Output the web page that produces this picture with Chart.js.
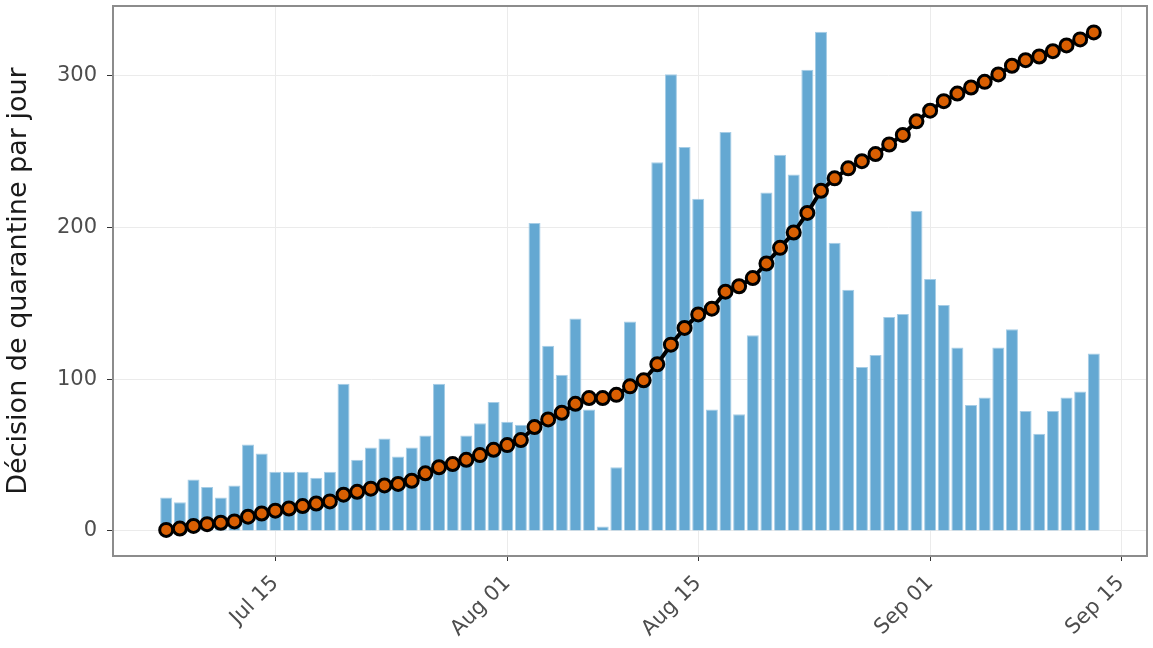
<!DOCTYPE html>
<html>
<head>
<meta charset="utf-8">
<script src="https://cdn.jsdelivr.net/npm/chart.js@4.4.0/dist/chart.umd.min.js"></script>
<style>
    html, body { margin: 0; padding: 0; background: #ffffff; }
    #quarantine-chart { display: block; }
</style>
</head>
<body>
<canvas id="quarantine-chart" width="1153" height="648"></canvas>
<script>
// One entry per day, 2020-07-07 .. 2020-09-13
const dates = [
    '2020-07-07', '2020-07-08', '2020-07-09', '2020-07-10', '2020-07-11', '2020-07-12', '2020-07-13',
    '2020-07-14', '2020-07-15', '2020-07-16', '2020-07-17', '2020-07-18', '2020-07-19', '2020-07-20',
    '2020-07-21', '2020-07-22', '2020-07-23', '2020-07-24', '2020-07-25', '2020-07-26', '2020-07-27',
    '2020-07-28', '2020-07-29', '2020-07-30', '2020-07-31', '2020-08-01', '2020-08-02', '2020-08-03',
    '2020-08-04', '2020-08-05', '2020-08-06', '2020-08-07', '2020-08-08', '2020-08-09', '2020-08-10',
    '2020-08-11', '2020-08-12', '2020-08-13', '2020-08-14', '2020-08-15', '2020-08-16', '2020-08-17',
    '2020-08-18', '2020-08-19', '2020-08-20', '2020-08-21', '2020-08-22', '2020-08-23', '2020-08-24',
    '2020-08-25', '2020-08-26', '2020-08-27', '2020-08-28', '2020-08-29', '2020-08-30', '2020-08-31',
    '2020-09-01', '2020-09-02', '2020-09-03', '2020-09-04', '2020-09-05', '2020-09-06', '2020-09-07',
    '2020-09-08', '2020-09-09', '2020-09-10', '2020-09-11', '2020-09-12', '2020-09-13'
];

// Décisions de quarantaine par jour (bars)
const dailyDecisions = [
    22, 19, 34, 29, 22, 30, 57,
    51, 39, 39, 39, 35, 39, 97,
    47, 55, 61, 49, 55, 63, 97,
    47, 63, 71, 85, 72, 70, 203,
    122, 103, 140, 80, 3, 42, 138,
    100, 243, 301, 253, 219, 80, 263,
    77, 129, 223, 248, 235, 304, 329,
    190, 159, 108, 116, 141, 143, 211,
    166, 149, 121, 83, 88, 121, 133,
    79, 64, 79, 88, 92, 117
];

// Trend line with points
const trendValues = [
    0.7, 1.6, 3.3, 4.5, 5.4, 6.3, 9.4,
    11.5, 13.4, 14.8, 16.4, 18.1, 19.5, 23.9,
    25.8, 27.9, 30.0, 31.0, 33.1, 38.0, 42.0,
    44.1, 46.9, 50.0, 53.5, 56.6, 59.9, 68.5,
    73.5, 77.9, 83.8, 87.6, 87.6, 89.7, 95.3,
    99.3, 109.9, 122.8, 133.8, 142.7, 146.5, 157.7,
    161.3, 166.7, 176.3, 186.6, 196.7, 209.6, 224.2,
    232.4, 239.0, 243.7, 248.4, 254.7, 261.0, 270.0,
    277.0, 283.3, 288.3, 292.3, 296.0, 300.9, 306.6,
    310.3, 312.7, 316.2, 320.0, 324.0, 328.6
];

const xTickDates = ['2020-07-15', '2020-08-01', '2020-08-15', '2020-09-01', '2020-09-15'];
const xTickLabels = ['Jul 15', 'Aug 01', 'Aug 15', 'Sep 01', 'Sep 15'];
const yTickValues = [0, 100, 200, 300];

const DAY = 24 * 3600 * 1000;
const startTime = Date.parse(dates[0]);
const dayIndex = (d) => Math.round((Date.parse(d) - startTime) / DAY);

const barPoints = dates.map((d, i) => ({x: dayIndex(d), y: dailyDecisions[i]}));
const linePoints = dates.map((d, i) => ({x: dayIndex(d), y: trendValues[i]}));
const xTicks = xTickDates.map(dayIndex);

// panel border drawn on top, like ggplot theme_bw
const panelBorder = {
    id: 'panelBorder',
    afterDraw(chart) {
        const {ctx, chartArea} = chart;
        ctx.save();
        ctx.strokeStyle = '#8c8c8c';
        ctx.lineWidth = 2;
        ctx.strokeRect(chartArea.left, chartArea.top, chartArea.right - chartArea.left, chartArea.bottom - chartArea.top);
        ctx.restore();
    }
};

const ctx = document.getElementById('quarantine-chart');

new Chart(ctx, {
    type: 'bar',
    data: {
        datasets: [
            {
                type: 'line',
                label: 'Tendance',
                data: linePoints,
                borderColor: '#000000',
                borderWidth: 4,
                pointRadius: 6.5,
                pointBackgroundColor: '#d95f02',
                pointBorderColor: '#000000',
                pointBorderWidth: 3,
                tension: 0,
                order: 0
            },
            {
                label: 'Décision de quarantine par jour',
                data: barPoints,
                backgroundColor: '#64a8d2',
                borderColor: '#a6cde6',
                borderWidth: 1,
                barPercentage: 0.88,
                categoryPercentage: 1.0,
                order: 1
            }
        ]
    },
    options: {
        responsive: false,
        animation: false,
        devicePixelRatio: 1,
        layout: {
            autoPadding: false,
            padding: {top: 6, right: 6, left: 0, bottom: 0}
        },
        plugins: {
            legend: {display: false},
            tooltip: {enabled: false}
        },
        scales: {
            x: {
                type: 'linear',
                offset: false,
                min: -3.9,
                max: 71.9,
                afterBuildTicks: (scale) => {
                    scale.ticks = xTicks.map(v => ({value: v}));
                },
                afterFit: (scale) => {
                    scale.height = 92;
                    scale.paddingLeft = 0;
                    scale.paddingRight = 0;
                },
                grid: {
                    offset: false,
                    color: '#ebebeb',
                    lineWidth: 1,
                    tickColor: '#333333',
                    tickLength: 5
                },
                border: {display: false},
                ticks: {
                    autoSkip: false,
                    maxRotation: 45,
                    minRotation: 45,
                    padding: 10,
                    color: '#4d4d4d',
                    font: {family: 'DejaVu Sans', size: 21},
                    callback: (value, index) => xTickLabels[index]
                }
            },
            y: {
                min: -16.5,
                max: 346,
                afterBuildTicks: (scale) => {
                    scale.ticks = yTickValues.map(v => ({value: v}));
                },
                afterFit: (scale) => {
                    scale.width = 113;
                    scale.paddingTop = 0;
                    scale.paddingBottom = 0;
                },
                grid: {
                    color: '#ebebeb',
                    lineWidth: 1,
                    tickColor: '#333333',
                    tickLength: 6
                },
                border: {display: false},
                ticks: {
                    padding: 10,
                    color: '#4d4d4d',
                    font: {family: 'DejaVu Sans', size: 21}
                },
                title: {
                    display: true,
                    text: 'Décision de quarantine par jour',
                    color: '#1a1a1a',
                    padding: {top: 3, bottom: 0},
                    font: {family: 'DejaVu Sans', size: 27}
                }
            }
        }
    },
    plugins: [panelBorder]
});
</script>
</body>
</html>
